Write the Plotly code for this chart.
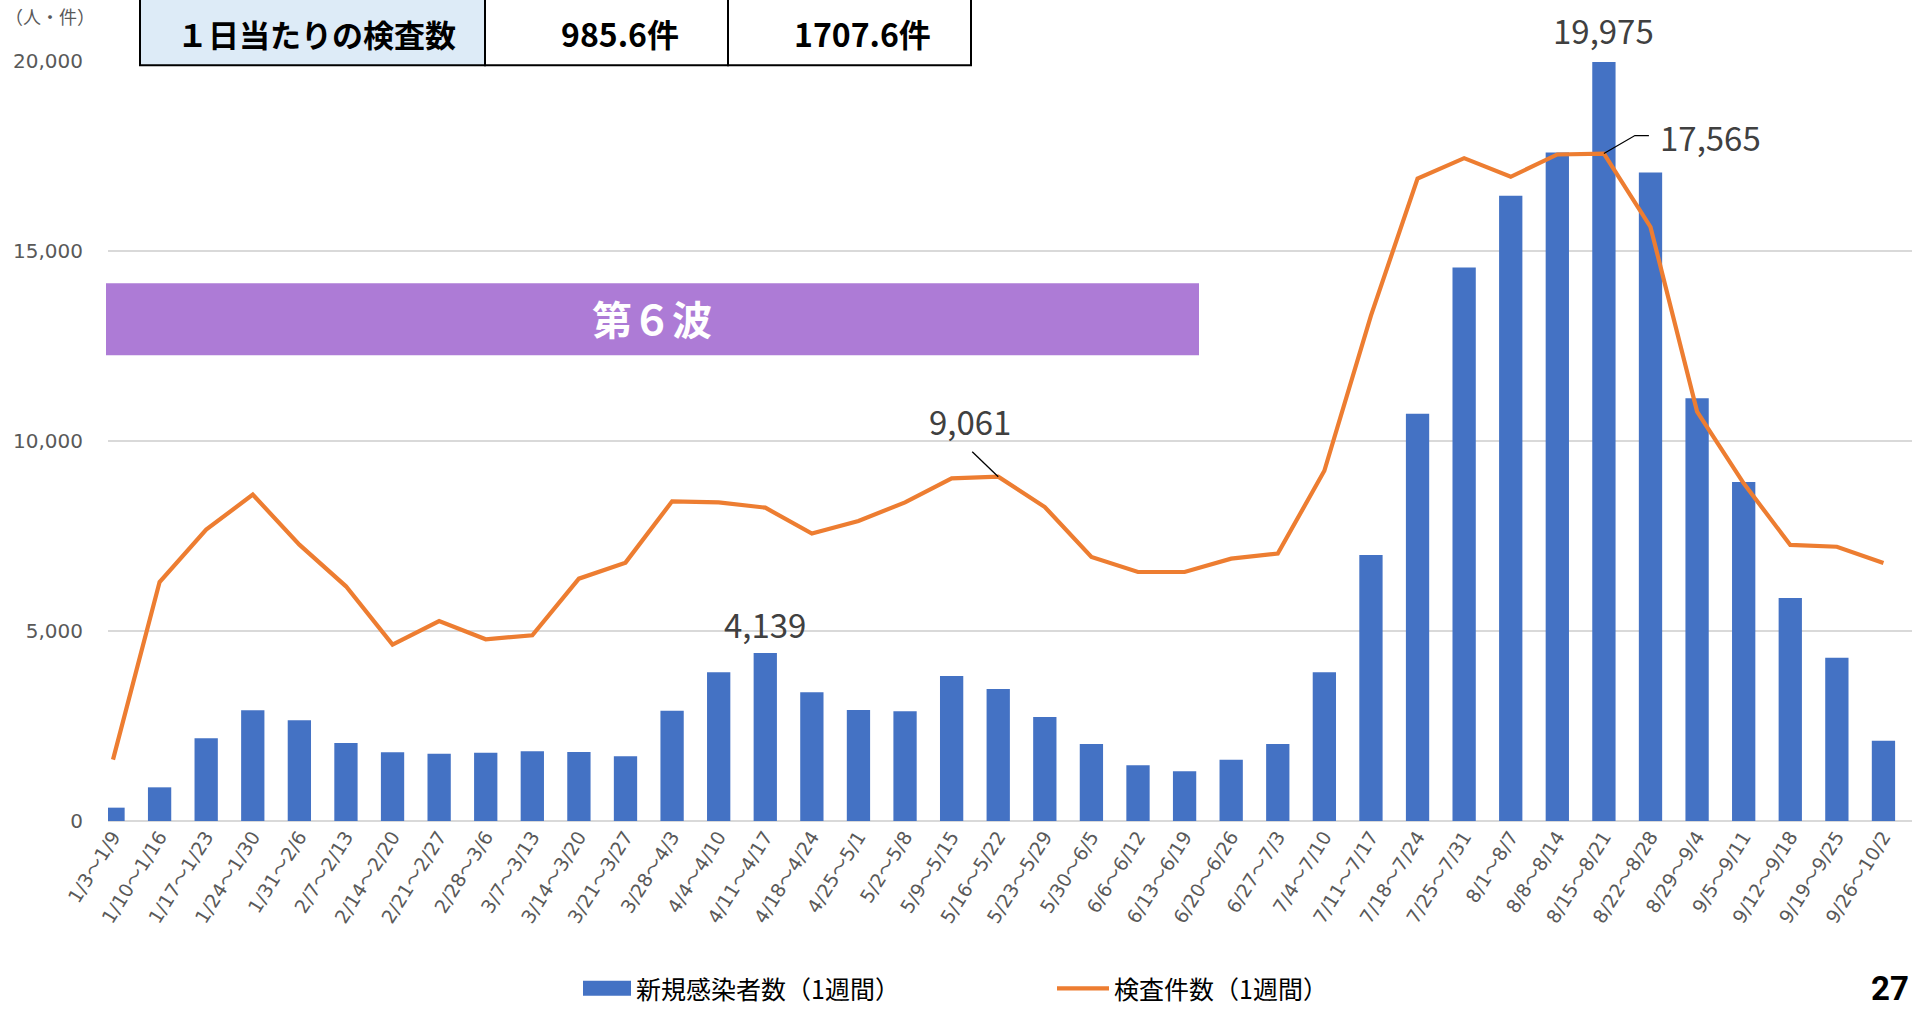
import plotly.graph_objects as go

# ---------------- data ----------------
categories = ["1/3～1/9", "1/10～1/16", "1/17～1/23", "1/24～1/30", "1/31～2/6",
              "2/7～2/13", "2/14～2/20", "2/21～2/27", "2/28～3/6", "3/7～3/13",
              "3/14～3/20", "3/21～3/27", "3/28～4/3", "4/4～4/10", "4/11～4/17",
              "4/18～4/24", "4/25～5/1", "5/2～5/8", "5/9～5/15", "5/16～5/22",
              "5/23～5/29", "5/30～6/5", "6/6～6/12", "6/13～6/19", "6/20～6/26",
              "6/27～7/3", "7/4～7/10", "7/11～7/17", "7/18～7/24", "7/25～7/31",
              "8/1～8/7", "8/8～8/14", "8/15～8/21", "8/22～8/28", "8/29～9/4",
              "9/5～9/11", "9/12～9/18", "9/19～9/25", "9/26～10/2"]

new_cases = [351, 886, 2175, 2912, 2649, 2053, 1807, 1772, 1798, 1833,
             1816, 1702, 2904, 3912, 4421, 3386, 2921, 2886, 3816, 3474,
             2737, 2026, 1465, 1307, 1614, 2026, 3912, 7000, 10717, 14566,
             16453, 17594, 19975, 17066, 11123, 8924, 5868, 4298, 2114]

tests = [1615, 6290, 7668, 8589, 7273, 6176, 4641, 5263, 4782, 4887,
         6378, 6799, 8413, 8386, 8246, 7563, 7895, 8386, 9018, 9061,
         8263, 6947, 6553, 6553, 6905, 7037, 9217, 13300, 16906, 17443,
         16953, 17540, 17565, 15632, 10774, 8887, 7264, 7217, 6792]

y_ticks = [0, 5000, 10000, 15000, 20000]

series_names = ["新規感染者数（1週間）", "検査件数（1週間）"]
table_cells = ["１日当たりの検査数", "985.6件", "1707.6件"]
unit_label = "（人・件）"
wave_label = "第６波"
page_number = "27"

# labelled points: (category index, label text)
bar_labels = [(14, "4,139"), (32, "19,975")]
line_labels = [(19, "9,061"), (32, "17,565")]

# ---------------- layout constants ----------------
W_FIG, H_FIG = 1912, 1009
L, T = 108, 60.7
PLOT_W = W_FIG - L
PLOT_H = 760.0
B = H_FIG - T - PLOT_H

def PX(x):
    return (x - L) / PLOT_W

def PY(y):
    return (T + PLOT_H - y) / PLOT_H

BLUE = "#4472C4"
ORANGE = "#ED7D31"
GRID = "#D9D9D9"
TICK = "#595959"
LABEL = "#404040"
JP = "Noto Sans CJK JP"
NUM = "Noto Sans CJK JP"
AX = "DejaVu Sans, Noto Sans CJK JP"

# tick text: make the wave dash render full-width from the CJK font
tick_text = [c.replace("～", '<span style="font-family:Noto Sans CJK JP">～</span>')
             for c in categories]

fig = go.Figure()
fig.add_trace(go.Bar(x=categories, y=new_cases, name=series_names[0],
                     marker=dict(color=BLUE, line=dict(width=0)), width=0.5,
                     showlegend=False))
fig.add_trace(go.Scatter(x=categories, y=tests, name=series_names[1], mode="lines",
                         line=dict(color=ORANGE, width=4.2), showlegend=False))

shapes = []
annotations = []

# gap in top gridline behind the 19,975 label
shapes.append(dict(type="rect", layer="below", xref="x", yref="y",
                   xsizemode="pixel", ysizemode="pixel",
                   xanchor=32, yanchor=y_ticks[-1], x0=-21, x1=21, y0=-4, y1=4,
                   fillcolor="white", line=dict(width=0)))

# wave band
shapes.append(dict(type="rect", xref="paper", yref="paper",
                   x0=PX(106), x1=PX(1199), y0=PY(355), y1=PY(283),
                   fillcolor="#AD7BD6", line=dict(width=0), layer="above"))
annotations.append(dict(xref="paper", yref="paper", x=PX(652), y=PY(318),
                        text="<b>" + wave_label + "</b>", showarrow=False,
                        font=dict(family=JP, size=40, color="white"),
                        xanchor="center", yanchor="middle"))

# table at top
col_edges = [140, 485, 728, 971]
fills = ["#DDEBF7", "white", "white"]
text_x = [316, 620, 862]
text_size = [31, 32, 32]
for i in range(3):
    shapes.append(dict(type="rect", xref="paper", yref="paper",
                       x0=PX(col_edges[i]), x1=PX(col_edges[i + 1]),
                       y0=PY(65), y1=PY(-10), fillcolor=fills[i],
                       line=dict(color="black", width=2), layer="above"))
    annotations.append(dict(xref="paper", yref="paper", x=PX(text_x[i]), y=PY(33),
                            text="<b>" + table_cells[i] + "</b>", showarrow=False,
                            font=dict(family=JP, size=text_size[i], color="black"),
                            xanchor="center", yanchor="middle"))

# unit label
annotations.append(dict(xref="paper", yref="paper", x=PX(50), y=PY(16),
                        text=unit_label, showarrow=False,
                        font=dict(family=JP, size=18, color=TICK),
                        xanchor="center", yanchor="middle"))

# data labels on bars
bar_shift = {14: (0, 29), 32: (0, 32)}
for idx, txt in bar_labels:
    dx, dy = bar_shift[idx]
    annotations.append(dict(x=categories[idx], y=new_cases[idx], xref="x", yref="y",
                            text=txt, showarrow=False, xshift=dx, yshift=dy,
                            font=dict(family=NUM, size=33, color=LABEL),
                            xanchor="center", yanchor="middle"))

# 9,061 label + leader
annotations.append(dict(x=categories[19], y=tests[19], xref="x", yref="y",
                        text=line_labels[0][1], showarrow=False, xshift=-28, yshift=56,
                        font=dict(family=NUM, size=33, color=LABEL),
                        xanchor="center", yanchor="middle"))
shapes.append(dict(type="line", xref="x", yref="y", xsizemode="pixel", ysizemode="pixel",
                   xanchor=19, yanchor=tests[19], x0=0, y0=0, x1=-26, y1=25,
                   line=dict(color="black", width=1.3)))

# 17,565 label + leader
annotations.append(dict(x=categories[32], y=tests[32], xref="x", yref="y",
                        text=line_labels[1][1], showarrow=False, xshift=54, yshift=17,
                        font=dict(family=NUM, size=33, color=LABEL),
                        xanchor="left", yanchor="middle"))
shapes.append(dict(type="path", xref="x", yref="y", xsizemode="pixel", ysizemode="pixel",
                   xanchor=32, yanchor=tests[32], path="M 0 0 L 31 18 L 45 18",
                   line=dict(color="black", width=1.3)))

# custom legend
LEG_Y = 988
shapes.append(dict(type="rect", xref="paper", yref="paper",
                   x0=PX(583), x1=PX(631), y0=PY(LEG_Y + 7.5), y1=PY(LEG_Y - 7.5),
                   fillcolor=BLUE, line=dict(width=0)))
annotations.append(dict(xref="paper", yref="paper", x=PX(634), y=PY(LEG_Y),
                        text=series_names[0], showarrow=False,
                        font=dict(family=JP, size=25, color="black"),
                        xanchor="left", yanchor="middle"))
shapes.append(dict(type="line", xref="paper", yref="paper",
                   x0=PX(1057), x1=PX(1109), y0=PY(LEG_Y), y1=PY(LEG_Y),
                   line=dict(color=ORANGE, width=4.2)))
annotations.append(dict(xref="paper", yref="paper", x=PX(1112), y=PY(LEG_Y),
                        text=series_names[1], showarrow=False,
                        font=dict(family=JP, size=25, color="black"),
                        xanchor="left", yanchor="middle"))

# page number
annotations.append(dict(xref="paper", yref="paper", x=PX(1869), y=PY(LEG_Y),
                        text="<b>" + page_number + "</b>", showarrow=False,
                        font=dict(family="Roboto", size=33, color="black"),
                        xanchor="left", yanchor="middle"))

spacing = PLOT_W / 38.72
x0r = -5 / spacing
fig.update_layout(
    width=W_FIG, height=H_FIG,
    margin=dict(l=L, r=0, t=T, b=B, pad=0),
    paper_bgcolor="white", plot_bgcolor="white",
    showlegend=False,
    shapes=shapes, annotations=annotations,
    xaxis=dict(type="category", range=[x0r, x0r + 38.72], showgrid=False,
               showline=False, ticks="", tickangle=-58,
               tickvals=categories, ticktext=tick_text,
               tickfont=dict(family=AX, size=19, color=TICK)),
    yaxis=dict(range=[0, 20000], tickvals=y_ticks, tickformat=",d",
               showgrid=True, gridcolor=GRID, gridwidth=1.6,
               zeroline=True, zerolinecolor=GRID, zerolinewidth=2,
               showline=False, ticks="", ticklabelstandoff=24,
               tickfont=dict(family="DejaVu Sans", size=20, color=TICK)),
)

fig.write_html("out.html", config={"displayModeBar": False},
               post_script="document.body.style.margin='0';")
